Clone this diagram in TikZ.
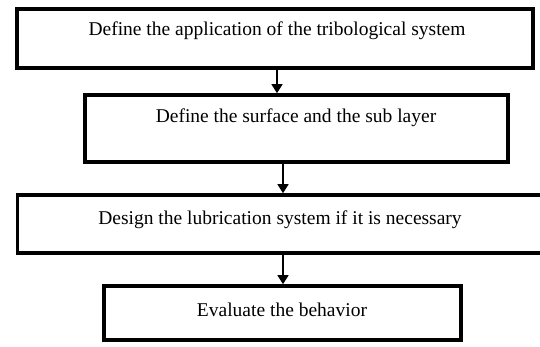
\documentclass[tikz,border=0pt]{standalone}
\usepackage{fontspec}
\setmainfont{Liberation Serif}
\usetikzlibrary{arrows.meta}
\begin{document}
\begin{tikzpicture}[x=1pt,y=-1pt,
  stepbox/.style={draw=black,line width=3.6pt,rectangle,inner sep=0pt,outer sep=0pt},
  lbl/.style={font=\fontsize{19.5}{22}\selectfont,inner sep=0pt},
  arr/.style={line width=1.4pt,-{Triangle[length=9pt,width=11pt]}}]
\useasboundingbox (0,0) rectangle (540,347);
% process boxes (given by corners, outline centred on the line)
\node[stepbox,minimum width=516pt,minimum height=59pt,anchor=north west] (b1) at (17,9) {};
\node[stepbox,minimum width=423pt,minimum height=67pt,anchor=north west] (b2) at (85,95) {};
\node[stepbox,minimum width=540pt,minimum height=58pt,anchor=north west] (b3) at (17.5,195) {};
\node[stepbox,minimum width=357pt,minimum height=54pt,anchor=north west] (b4) at (104,286) {};
% box texts
\node[lbl] (t1) at (277,31) {Define the application of the tribological system};
\node[lbl] (t2) at (296,118) {Define the surface and the sub layer};
\node[lbl] (t3) at (280,220) {Design the lubrication system if it is necessary};
\node[lbl] (t4) at (282,310) {Evaluate the behavior};
% connectors
\coordinate (a1) at (277,0);
\coordinate (a2) at (283,0);
\draw[arr] ([yshift=-1.8pt]b1.south -| a1) -- ([yshift=1.8pt]b2.north -| a1);
\draw[arr] ([yshift=-1.8pt]b2.south -| a2) -- ([yshift=1.8pt]b3.north -| a2);
\draw[arr] ([yshift=-1.8pt]b3.south -| a2) -- ([yshift=1.8pt]b4.north -| a2);
\end{tikzpicture}
\end{document}
